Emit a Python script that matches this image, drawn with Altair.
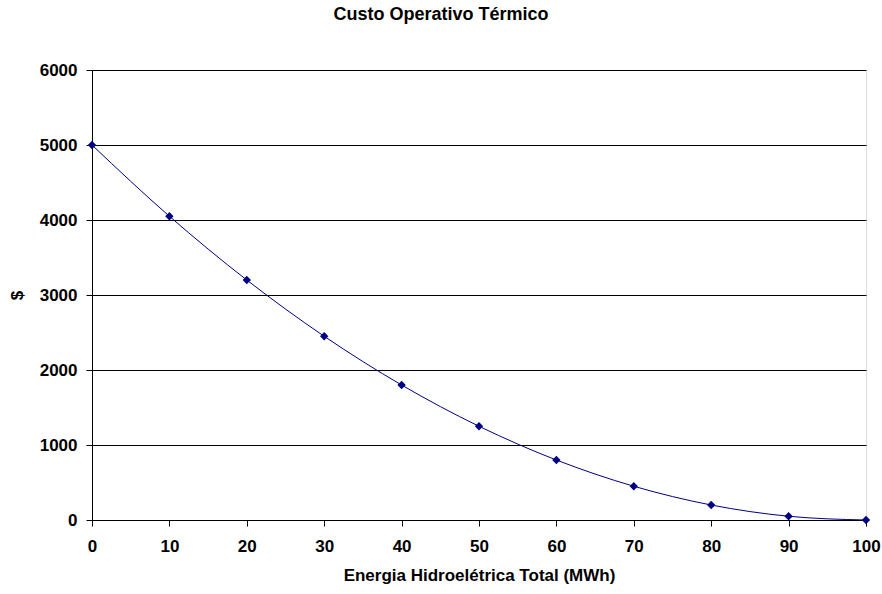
import altair as alt
import pandas as pd

energia = [0, 10, 20, 30, 40, 50, 60, 70, 80, 90, 100]
custo = [5000, 4050, 3200, 2450, 1800, 1250, 800, 450, 200, 50, 0]
x_ticks = [0, 10, 20, 30, 40, 50, 60, 70, 80, 90, 100]
y_ticks = [0, 1000, 2000, 3000, 4000, 5000, 6000]

df = pd.DataFrame({"x": energia, "y": custo})

FONT = "Liberation Sans"
NAVY = "#000080"

xenc = alt.X("x:Q",
             scale=alt.Scale(domain=[0, 100], nice=False, zero=False),
             axis=alt.Axis(values=x_ticks, title="Energia Hidroelétrica Total (MWh)",
                           grid=False, domainColor="#000000", tickColor="#000000",
                           tickSize=6, labelPadding=12, titlePadding=13, labelFlush=False,
                           format="d",
                           labelFont=FONT, labelFontSize=17, labelFontWeight="bold",
                           labelColor="#000000", titleFont=FONT, titleFontSize=17,
                           titleFontWeight="bold", titleColor="#000000"))
yenc = alt.Y("y:Q",
             scale=alt.Scale(domain=[0, 6000], nice=False),
             axis=alt.Axis(values=y_ticks, title="$", grid=True, gridColor="#000000",
                           gridWidth=1, domainColor="#000000", tickColor="#000000",
                           tickSize=6, labelPadding=9, titlePadding=13, labelFlush=False,
                           format="d",
                           labelFont=FONT, labelFontSize=17, labelFontWeight="bold",
                           labelColor="#000000", titleFont=FONT, titleFontSize=17,
                           titleFontWeight="bold", titleColor="#000000"))

line = alt.Chart(df).mark_line(color=NAVY, strokeWidth=1, interpolate="monotone").encode(x=xenc, y=yenc)
pts = alt.Chart(df).mark_point(shape="diamond", filled=True, color=NAVY, size=70, opacity=1).encode(x="x:Q", y="y:Q")

chart = alt.layer(line, pts).properties(
    width=774, height=450,
    autosize=alt.AutoSizeParams(type="none"),
    padding={"left": 92, "top": 70, "right": 16, "bottom": 74},
    title=alt.TitleParams("Custo Operativo Térmico", font=FONT, fontSize=18,
                          fontWeight="bold", color="#000000", anchor="middle",
                          dx=-38, offset=37),
).configure_view(stroke="#808080", strokeWidth=1).configure(background="white")

chart.save("out.html", embed_options={"renderer": "svg", "actions": False})
